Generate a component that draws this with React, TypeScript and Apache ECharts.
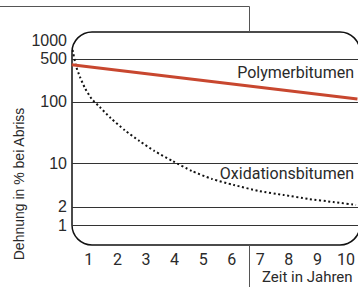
import React, { useEffect, useRef } from "react";
import * as echarts from "echarts";

const yearTicks = [1, 2, 3, 4, 5, 6, 7, 8, 9, 10];
const yTickLabels = [1, 2, 10, 100, 500, 1000];
const gridValues = [1, 2, 10, 100, 500];

const polyYears = [0.4, 10.4];
const polyValues = [400, 112];

const oxyYears = [
  0.43, 0.55, 0.69, 0.86, 1.1, 1.38, 1.76, 2.25, 2.77, 3.29, 3.92, 4.61, 5.31, 6.07, 6.94, 7.81, 8.68, 9.55, 10.35,
];
const oxyValues = [
  696, 383, 254, 169, 112, 83, 55, 35, 23.3, 16.1, 11.1, 7.6, 5.65, 4.52, 3.61, 3.11, 2.68, 2.39, 2.14,
];

const polyName = "Polymerbitumen";
const oxyName = "Oxidationsbitumen";
const yTitle = "Dehnung in % bei Abriss";
const xTitle = "Zeit in Jahren";

export default function App() {
  const ref = useRef<HTMLDivElement>(null);
  useEffect(() => {
    document.body.style.margin = "0";
    const chart = echarts.init(ref.current!, null, { renderer: "svg" });
    const textColor = "#2a2a2a";
    chart.setOption({
      animation: false,
      backgroundColor: "#fff",
      grid: { left: 72, top: 32, right: -2, bottom: 42, containLabel: false },
      xAxis: {
        type: "value",
        min: 0.41,
        max: 10.42,
        axisLine: { show: false },
        axisTick: { show: false },
        splitLine: { show: false },
        axisLabel: {
          customValues: yearTicks,
          margin: 6,
          color: textColor,
          fontFamily: "Roboto",
          fontSize: 16,
        },
      },
      yAxis: {
        type: "log",
        min: 0.48,
        max: 1362,
        axisLine: { show: false },
        axisTick: { show: false },
        splitLine: { show: false },
        axisLabel: {
          customValues: yTickLabels,
          margin: 5,
          color: textColor,
          fontFamily: "Liberation Sans",
          fontSize: 16,
          formatter: (v: number) => String(Math.round(v)),
        },
      },
      series: [
        {
          name: oxyName,
          type: "line",
          smooth: 0.2,
          showSymbol: false,
          data: oxyYears.map((x, i) => [x, oxyValues[i]]),
          lineStyle: { color: "#111", width: 2, type: [2, 2.6] },
          z: 3,
          markLine: {
            silent: true,
            symbol: "none",
            label: { show: false },
            lineStyle: { color: "#333", width: 1, type: "solid" },
            data: gridValues.map((v) => ({ yAxis: v })),
            z: 1,
          },
        },
        {
          name: polyName,
          type: "line",
          showSymbol: false,
          data: polyYears.map((x, i) => [x, polyValues[i]]),
          lineStyle: { color: "#c8472f", width: 3 },
          z: 4,
        },
      ],
      graphic: [
        {
          type: "rect",
          shape: { x: 72, y: 32, width: 288, height: 213, r: 20 },
          style: { fill: "none", stroke: "#111", lineWidth: 1.5 },
          silent: true,
        },
        {
          type: "polyline",
          shape: { points: [[0, 6.5], [249.5, 6.5], [249.5, 32]] },
          style: { fill: "none", stroke: "#555", lineWidth: 1 },
          silent: true,
        },
        {
          type: "line",
          shape: { x1: 249.5, y1: 245, x2: 249.5, y2: 287 },
          style: { stroke: "#555", lineWidth: 1 },
          silent: true,
        },
        {
          type: "text",
          x: 354,
          y: 72,
          style: {
            text: polyName,
            fill: textColor,
            font: "16px Roboto",
            align: "right",
            verticalAlign: "middle",
          },
        },
        {
          type: "text",
          x: 354,
          y: 173,
          style: {
            text: oxyName,
            fill: textColor,
            font: "16px Roboto",
            align: "right",
            verticalAlign: "middle",
          },
        },
        {
          type: "text",
          x: 262,
          y: 277,
          style: {
            text: xTitle,
            fill: textColor,
            font: "15px Roboto",
            align: "left",
            verticalAlign: "middle",
          },
        },
        {
          type: "text",
          x: 19,
          y: 184,
          rotation: Math.PI / 2,
          style: {
            text: yTitle,
            fill: textColor,
            font: "14px 'Liberation Sans'",
            align: "center",
            verticalAlign: "middle",
          },
        },
      ],
    });
    return () => chart.dispose();
  }, []);
  return <div ref={ref} style={{ width: 358, height: 287 }} />;
}
